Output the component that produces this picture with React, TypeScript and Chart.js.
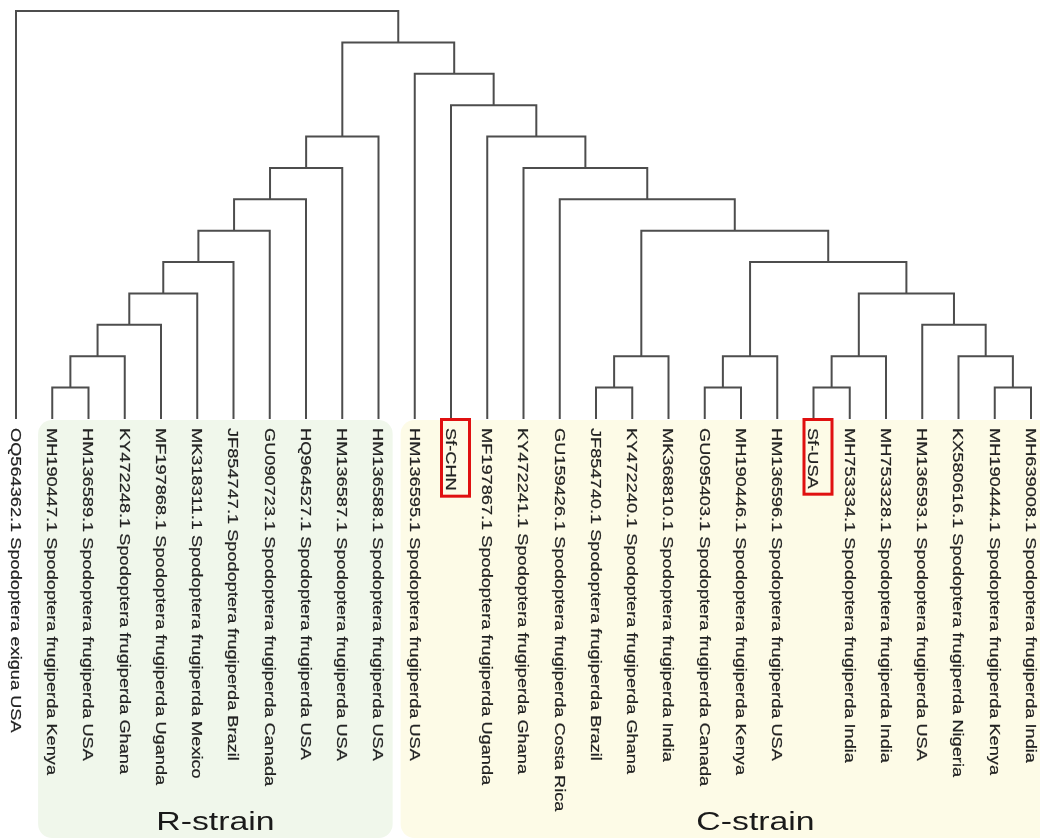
import React, { useEffect, useRef } from 'react';
import { Chart, registerables } from 'chart.js';

Chart.register(...registerables);

// ---- Data -------------------------------------------------------------
const leafLabels: string[] = [
  'OQ564362.1 Spodoptera exigua USA',
  'MH190447.1 Spodoptera frugiperda Kenya',
  'HM136589.1 Spodoptera frugiperda USA',
  'KY472248.1 Spodoptera frugiperda Ghana',
  'MF197868.1 Spodoptera frugiperda Uganda',
  'MK318311.1 Spodoptera frugiperda Mexico',
  'JF854747.1 Spodoptera frugiperda Brazil',
  'GU090723.1 Spodoptera frugiperda Canada',
  'HQ964527.1 Spodoptera frugiperda USA',
  'HM136587.1 Spodoptera frugiperda USA',
  'HM136588.1 Spodoptera frugiperda USA',
  'HM136595.1 Spodoptera frugiperda USA',
  'Sf-CHN',
  'MF197867.1 Spodoptera frugiperda Uganda',
  'KY472241.1 Spodoptera frugiperda Ghana',
  'GU159426.1 Spodoptera frugiperda Costa Rica',
  'JF854740.1 Spodoptera frugiperda Brazil',
  'KY472240.1 Spodoptera frugiperda Ghana',
  'MK368810.1 Spodoptera frugiperda India',
  'GU095403.1 Spodoptera frugiperda Canada',
  'MH190446.1 Spodoptera frugiperda Kenya',
  'HM136596.1 Spodoptera frugiperda USA',
  'Sf-USA',
  'MH753334.1 Spodoptera frugiperda India',
  'MH753328.1 Spodoptera frugiperda India',
  'HM136593.1 Spodoptera frugiperda USA',
  'KX580616.1 Spodoptera frugiperda Nigeria',
  'MH190444.1 Spodoptera frugiperda Kenya',
  'MH639008.1 Spodoptera frugiperda India',
];

// Linkage (ids 0..28 are leaves, merge k creates node 29 + k)
const mergeLeft: number[] = [1, 16, 19, 22, 27, 29, 30, 31, 32, 26, 34, 25, 39, 37, 41, 36, 43, 35, 45, 15, 47, 14, 49, 13, 12, 11, 51, 0];
const mergeRight: number[] = [2, 17, 20, 23, 28, 3, 18, 21, 24, 33, 4, 38, 5, 40, 6, 42, 7, 44, 8, 46, 9, 48, 10, 50, 52, 53, 54, 55];
const mergeHeight: number[] = [1, 1, 1, 1, 1, 2, 2, 2, 2, 2, 3, 3, 4, 4, 5, 5, 6, 6, 7, 7, 8, 8, 9, 9, 10, 11, 12, 13];

const highlightedLeaves: string[] = ['Sf-CHN', 'Sf-USA'];

const groupNames: string[] = ['R-strain', 'C-strain'];
const groupFirstLeaf: number[] = [1, 11];
const groupLastLeaf: number[] = [10, 28];

// ---- Style / layout -----------------------------------------------------
const FONT = '"Liberation Sans", Arial, sans-serif';
const LINE_COLOR = '#4d4d4d';
const TEXT_COLOR = '#222222';
const GROUP_FILL = ['#f0f7eb', '#fdfbe7'];
const GROUP_LABEL_POS = [5.5, 20.4];
const STRETCH = 1.3;

function buildDatasets() {
  const nx: number[] = leafLabels.map((_, i) => i);
  const ny: number[] = leafLabels.map(() => 0);
  const datasets: any[] = [];
  for (let k = 0; k < mergeLeft.length; k++) {
    const l = mergeLeft[k];
    const r = mergeRight[k];
    const h = mergeHeight[k];
    nx.push((nx[l] + nx[r]) / 2);
    ny.push(h);
    datasets.push({
      data: [
        { x: nx[l], y: ny[l] },
        { x: nx[l], y: h },
        { x: nx[r], y: h },
        { x: nx[r], y: ny[r] },
      ],
      showLine: true,
      borderColor: LINE_COLOR,
      borderWidth: 2,
      borderJoinStyle: 'miter',
      pointRadius: 0,
      pointHoverRadius: 0,
      fill: false,
      tension: 0,
      clip: false,
    });
  }
  return datasets;
}

const decorPlugin = {
  id: 'dendroDecor',
  beforeDatasetsDraw(chart: any) {
    const ctx = chart.ctx as CanvasRenderingContext2D;
    const xs = chart.scales.x;
    const step = xs.getPixelForValue(1) - xs.getPixelForValue(0);
    ctx.save();
    for (let g = 0; g < groupNames.length; g++) {
      const left = xs.getPixelForValue(groupFirstLeaf[g]) - step * 0.39;
      let right = xs.getPixelForValue(groupLastLeaf[g]) + step * 0.39;
      if (g === groupNames.length - 1) right = chart.width + 30;
      ctx.fillStyle = GROUP_FILL[g];
      ctx.beginPath();
      (ctx as any).roundRect(left, 420, right - left, 418, 14);
      ctx.fill();
    }
    ctx.restore();
  },
  afterDraw(chart: any) {
    const ctx = chart.ctx as CanvasRenderingContext2D;
    const xs = chart.scales.x;
    const fontSize = 14;
    const cap = fontSize * 0.716;
    const top = 428;
    ctx.save();
    ctx.font = `${fontSize}px ${FONT}`;
    ctx.fillStyle = TEXT_COLOR;
    ctx.strokeStyle = TEXT_COLOR;
    ctx.lineWidth = 0.2;
    ctx.textBaseline = 'alphabetic';
    ctx.textAlign = 'left';
    leafLabels.forEach((label, i) => {
      const x = xs.getPixelForValue(i);
      ctx.save();
      ctx.translate(x, top);
      ctx.rotate(Math.PI / 2);
      ctx.scale(STRETCH, 1);
      ctx.fillText(label, 0, cap / 2);
      ctx.strokeText(label, 0, cap / 2);
      ctx.restore();
      if (highlightedLeaves.includes(label)) {
        const w = ctx.measureText(label).width * STRETCH;
        ctx.save();
        ctx.strokeStyle = '#e01010';
        ctx.lineWidth = 3;
        ctx.strokeRect(x - 9.5, 419.5, 28, w + 14);
        ctx.restore();
      }
    });
    // group titles
    ctx.font = `26px ${FONT}`;
    ctx.fillStyle = '#1a1a1a';
    ctx.textAlign = 'center';
    for (let g = 0; g < groupNames.length; g++) {
      const cx = xs.getPixelForValue(GROUP_LABEL_POS[g]);
      ctx.save();
      ctx.translate(cx, 830);
      ctx.scale(STRETCH, 1);
      ctx.fillText(groupNames[g], 0, 0);
      ctx.restore();
    }
    ctx.restore();
  },
};

export default function App() {
  const ref = useRef<HTMLCanvasElement | null>(null);
  useEffect(() => {
    if (!ref.current) return;
    const chart = new Chart(ref.current, {
      type: 'scatter',
      data: { datasets: buildDatasets() },
      options: {
        animation: false,
        responsive: false,
        events: [],
        layout: { padding: { left: 16, right: 9, top: 11, bottom: 420 } },
        scales: {
          x: { type: 'linear', min: 0, max: 28, display: false },
          y: { type: 'linear', min: 0, max: 13, display: false },
        },
        plugins: { legend: { display: false }, tooltip: { enabled: false }, title: { display: false } },
      },
      plugins: [decorPlugin],
    } as any);
    return () => chart.destroy();
  }, []);
  return (
    <div style={{ position: 'fixed', left: 0, top: 0, width: 1040, height: 839, background: '#ffffff' }}>
      <canvas ref={ref} width={1040} height={839} style={{ display: 'block' }} />
    </div>
  );
}
